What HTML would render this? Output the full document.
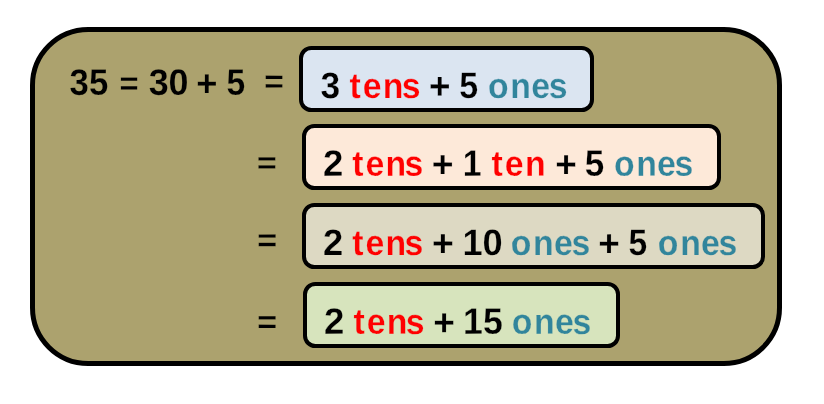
<!DOCTYPE html>
<html><head><meta charset="utf-8"><title>35 = 30 + 5</title>
<style>
html,body{margin:0;padding:0;background:#fff;}
body{width:824px;height:404px;overflow:hidden;font-family:"Liberation Sans",sans-serif;}
svg{display:block;position:absolute;left:0;top:0;will-change:transform;}
</style></head><body>
<svg width="824" height="404" viewBox="0 0 824 404">
<rect x="32.5" y="29.5" width="747" height="334" rx="55.7" ry="55.7" fill="#aca26e" stroke="#000" stroke-width="5"/>
<rect x="301" y="48" width="291" height="62" rx="10.33" ry="10.33" fill="#dbe5f1" stroke="#000" stroke-width="4"/>
<rect x="304" y="126" width="415" height="62" rx="10.33" ry="10.33" fill="#fde9d9" stroke="#000" stroke-width="4"/>
<rect x="304" y="205" width="459" height="62" rx="10.33" ry="10.33" fill="#ddd9c3" stroke="#000" stroke-width="4"/>
<rect x="305" y="284" width="313" height="62" rx="10.33" ry="10.33" fill="#d7e4bd" stroke="#000" stroke-width="4"/>
<g font-family="Liberation Sans, sans-serif" font-weight="bold" font-size="35">
<text transform="translate(69.58 94.80) rotate(0.03) scale(0.9923 1.0480)"  fill="#000" stroke="#aca26e" stroke-width="0.23">35</text>
<text transform="translate(119.61 93.97) rotate(0.03) scale(0.9326 0.9090)"  fill="#000" stroke="#aca26e" stroke-width="0.23">=</text>
<text transform="translate(148.65 94.80) rotate(0.03) scale(1.0254 1.0480)"  fill="#000" stroke="#aca26e" stroke-width="0.23">30</text>
<text transform="translate(196.27 95.95) rotate(0.03) scale(1.0376 1.0554)"  fill="#000" stroke="#aca26e" stroke-width="0.23">+</text>
<text transform="translate(226.42 94.80) rotate(0.03) scale(0.9601 1.0480)"  fill="#000" stroke="#aca26e" stroke-width="0.23">5</text>
<text transform="translate(264.35 91.88) rotate(0.03) scale(0.9566 0.9018)"  fill="#000" stroke="#aca26e" stroke-width="0.23">=</text>
<text transform="translate(320.38 97.90) rotate(0.03) scale(1.0112 1.0480)"  fill="#000" stroke="#dbe5f1" stroke-width="0.23">3</text>
<text transform="translate(349.04 97.90) rotate(0.03) scale(0.9650 1.0190)"  x="0.37 14.24 34.85 54.52" fill="#ff0000" stroke="#dbe5f1" stroke-width="0.23">tens</text>
<text transform="translate(429.07 98.72) rotate(0.03) scale(1.0531 1.0627)"  fill="#000" stroke="#dbe5f1" stroke-width="0.23">+</text>
<text transform="translate(459.37 97.90) rotate(0.03) scale(0.9714 1.0480)"  fill="#000" stroke="#dbe5f1" stroke-width="0.23">5</text>
<text transform="translate(487.98 97.90) rotate(0.03) scale(0.9650 1.0190)"  x="0.01 23.15 44.81 62.93" fill="#31859c" stroke="#dbe5f1" stroke-width="0.23">ones</text>
<text transform="translate(257.12 172.65) rotate(0.03) scale(0.9643 0.8490)"  fill="#000" stroke="#aca26e" stroke-width="0.23">=</text>
<text transform="translate(323.06 175.80) rotate(0.03) scale(1.0448 1.0480)"  fill="#000" stroke="#fde9d9" stroke-width="0.23">2</text>
<text transform="translate(351.84 175.80) rotate(0.03) scale(0.9650 1.0190)"  x="0.37 14.24 34.85 54.52" fill="#ff0000" stroke="#fde9d9" stroke-width="0.23">tens</text>
<text transform="translate(431.84 176.89) rotate(0.03) scale(1.0674 1.0719)"  fill="#000" stroke="#fde9d9" stroke-width="0.23">+</text>
<text transform="translate(462.63 175.80) rotate(0.03) scale(0.9637 1.0480)"  fill="#000" stroke="#fde9d9" stroke-width="0.23">1</text>
<text transform="translate(491.04 175.80) rotate(0.03) scale(0.9650 1.0190)"  x="0.37 14.24 35.27" fill="#ff0000" stroke="#fde9d9" stroke-width="0.23">ten</text>
<text transform="translate(555.16 176.89) rotate(0.03) scale(1.0539 1.0692)"  fill="#000" stroke="#fde9d9" stroke-width="0.23">+</text>
<text transform="translate(584.87 175.80) rotate(0.03) scale(1.0013 1.0480)"  fill="#000" stroke="#fde9d9" stroke-width="0.23">5</text>
<text transform="translate(613.88 175.80) rotate(0.03) scale(0.9650 1.0190)"  x="0.01 23.15 44.81 62.93" fill="#31859c" stroke="#fde9d9" stroke-width="0.23">ones</text>
<text transform="translate(257.36 250.51) rotate(0.03) scale(0.9711 0.8810)"  fill="#000" stroke="#aca26e" stroke-width="0.23">=</text>
<text transform="translate(323.12 255.00) rotate(0.03) scale(1.0371 1.0480)"  fill="#000" stroke="#ddd9c3" stroke-width="0.23">2</text>
<text transform="translate(351.78 255.00) rotate(0.03) scale(0.9650 1.0190)"  x="0.37 14.24 34.85 54.52" fill="#ff0000" stroke="#ddd9c3" stroke-width="0.23">tens</text>
<text transform="translate(431.91 256.05) rotate(0.03) scale(1.0680 1.0713)"  fill="#000" stroke="#ddd9c3" stroke-width="0.23">+</text>
<text transform="translate(462.43 255.00) rotate(0.03) scale(1.0338 1.0480)"  fill="#000" stroke="#ddd9c3" stroke-width="0.23">10</text>
<text transform="translate(510.78 255.00) rotate(0.03) scale(0.9650 1.0190)"  x="0.01 23.15 44.81 62.93" fill="#31859c" stroke="#ddd9c3" stroke-width="0.23">ones</text>
<text transform="translate(598.16 256.02) rotate(0.03) scale(1.0530 1.0603)"  fill="#000" stroke="#ddd9c3" stroke-width="0.23">+</text>
<text transform="translate(628.39 255.00) rotate(0.03) scale(0.9592 1.0480)"  fill="#000" stroke="#ddd9c3" stroke-width="0.23">5</text>
<text transform="translate(657.87 255.00) rotate(0.03) scale(0.9650 1.0190)"  x="0.01 23.15 44.81 62.93" fill="#31859c" stroke="#ddd9c3" stroke-width="0.23">ones</text>
<text transform="translate(257.36 332.54) rotate(0.03) scale(0.9699 0.9021)"  fill="#000" stroke="#aca26e" stroke-width="0.23">=</text>
<text transform="translate(324.07 333.85) rotate(0.03) scale(1.0453 1.0480)"  fill="#000" stroke="#d7e4bd" stroke-width="0.23">2</text>
<text transform="translate(353.05 333.85) rotate(0.03) scale(0.9650 1.0190)"  x="0.37 14.24 34.85 54.52" fill="#ff0000" stroke="#d7e4bd" stroke-width="0.23">tens</text>
<text transform="translate(433.18 335.20) rotate(0.03) scale(1.0585 1.0703)"  fill="#000" stroke="#d7e4bd" stroke-width="0.23">+</text>
<text transform="translate(463.07 333.85) rotate(0.03) scale(1.0183 1.0480)"  fill="#000" stroke="#d7e4bd" stroke-width="0.23">15</text>
<text transform="translate(511.70 333.85) rotate(0.03) scale(0.9650 1.0190)"  x="0.01 23.15 44.81 62.93" fill="#31859c" stroke="#d7e4bd" stroke-width="0.23">ones</text>
</g>
</svg>
</body></html>
